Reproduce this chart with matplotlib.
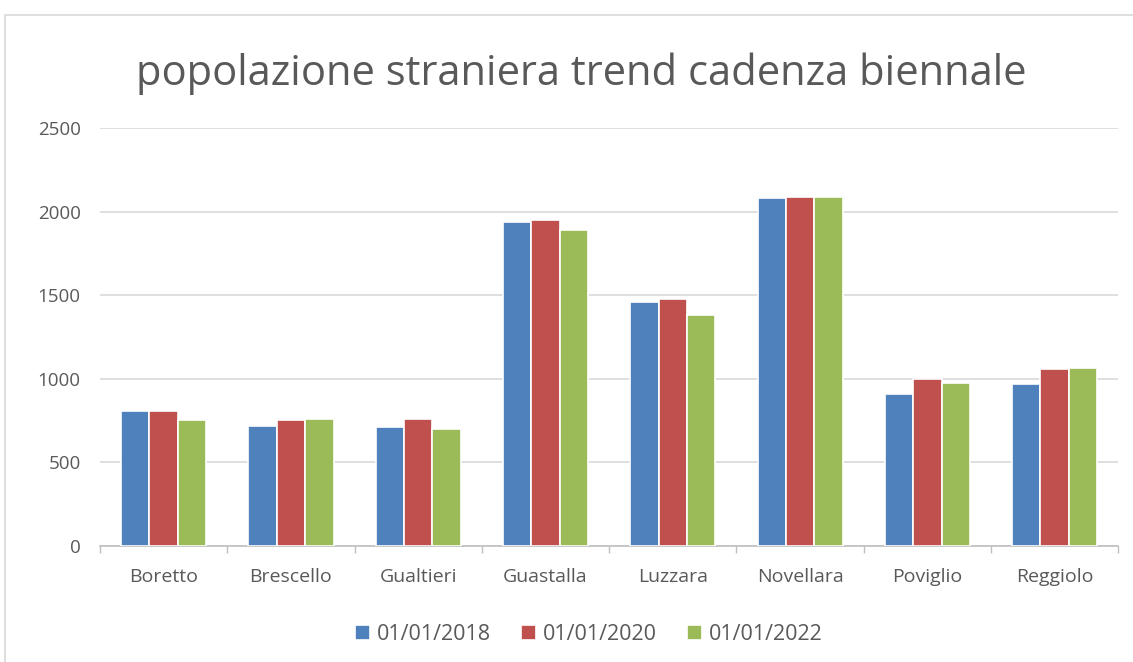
import numpy as np
import matplotlib.pyplot as plt
from matplotlib.patches import Rectangle

comuni = ['Boretto', 'Brescello', 'Gualtieri', 'Guastalla', 'Luzzara',
          'Novellara', 'Poviglio', 'Reggiolo']
anni = ['01/01/2018', '01/01/2020', '01/01/2022']
pop_2018 = [806, 716, 710, 1936, 1459, 2080, 907, 967]
pop_2020 = [806, 754, 761, 1950, 1475, 2087, 999, 1058]
pop_2022 = [754, 761, 700, 1888, 1382, 2087, 977, 1065]
colori = ['#4F81BD', '#C0504D', '#9BBB59']

GREY = '#595959'
plt.rcParams['font.family'] = ['Open Sans', 'DejaVu Sans']

fig = plt.figure(figsize=(11.33, 6.62), dpi=100)
ax = fig.add_axes([0.0883, 0.1752, 0.8987, 0.6314])

# cornice del grafico
fig.patches.append(Rectangle((5 / 1133, -0.01), 1.02, (662 - 15) / 662 + 0.01,
                             transform=fig.transFigure, fill=False,
                             edgecolor='#D9D9D9', linewidth=1.2))

x = np.arange(len(comuni))
step = 0.223
for i, (serie, nome) in enumerate(zip([pop_2018, pop_2020, pop_2022], anni)):
    ax.bar(x + (i - 1) * step, serie, width=step, color=colori[i],
           edgecolor='white', linewidth=1.2, label=nome, zorder=3)

ax.set_xlim(-0.5, len(comuni) - 0.5)
ax.set_ylim(0, 2500)
ax.set_yticks(range(0, 2501, 500))
ax.yaxis.grid(True, color='#D9D9D9', linewidth=1.2, zorder=0)

ax.set_xticks(x)
ax.set_xticklabels(comuni)
ax.set_xticks(np.arange(-0.5, len(comuni)), minor=True)
ax.tick_params(axis='x', which='major', length=0, pad=16, labelsize=14, labelcolor=GREY)
ax.tick_params(axis='x', which='minor', length=5, color='#BFBFBF', width=1)
ax.tick_params(axis='y', length=0, pad=14, labelsize=13.5, labelcolor=GREY)

for s in ['top', 'right', 'left']:
    ax.spines[s].set_visible(False)
ax.spines['bottom'].set_color('#BFBFBF')
ax.spines['bottom'].set_linewidth(1.2)

fig.text(0.513, 0.888, 'popolazione straniera trend cadenza biennale',
         ha='center', va='center', fontsize=30, color=GREY)

ax.legend(loc='upper center', bbox_to_anchor=(0.48, -0.14), ncol=3, frameon=False,
          fontsize=15.5, labelcolor=GREY, handlelength=0.7, handleheight=0.7,
          handletextpad=0.3, columnspacing=1.4)

fig.savefig('out.png', dpi=100)
